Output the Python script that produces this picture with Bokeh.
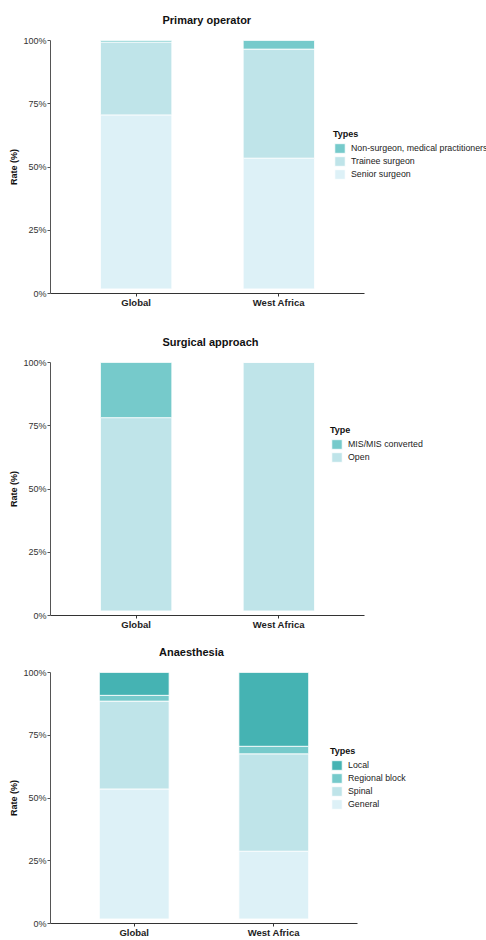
from bokeh.plotting import figure
from bokeh.models import Range1d, Legend, LegendItem, FixedTicker, ColumnDataSource
from bokeh.layouts import column
from bokeh.embed import file_html
from bokeh.resources import INLINE

# ---------------- data ----------------
regions = ["Global", "West Africa"]

op_types = ["Senior surgeon", "Trainee surgeon", "Non-surgeon, medical practitioners"]
op_senior = [70.6, 53.5]
op_trainee = [28.8, 43.1]
op_nonsurgeon = [0.6, 3.4]

app_types = ["Open", "MIS/MIS converted"]
app_open = [78.2, 100.0]
app_mis = [21.8, 0.0]

an_types = ["General", "Spinal", "Regional block", "Local"]
an_general = [53.6, 28.8]
an_spinal = [35.0, 38.8]
an_regional = [2.3, 3.0]
an_local = [9.1, 29.4]

y_ticks = [0, 25, 50, 75, 100]
y_tick_labels = ["0%", "25%", "50%", "75%", "100%"]

# ---------------- style ----------------
C1, C2, C3, C4 = "#DDF1F7", "#BFE4E9", "#76CACB", "#45B3B3"
FONT = "Liberation Sans"
FLOOR = 1.8  # small visual gap under the bars, as in the reference
PAD = 0.6    # discrete-axis expansion on each side


def make_panel(title, types, series, colors, legend_title, height,
               top_border, bottom_border, axis_w, legend_xy):
    pos = [i + 1 for i in range(len(regions))]
    x_start = pos[0] - PAD
    x_end_axis = pos[-1] + PAD
    frame_w = 486 - 50
    px_per_unit = axis_w / (x_end_axis - x_start)
    x_end = x_start + frame_w / px_per_unit

    p = figure(width=486, height=height, output_backend="svg", toolbar_location=None,
               x_range=Range1d(x_start, x_end),
               y_range=Range1d(0, 100),
               min_border_left=50, min_border_right=0,
               min_border_top=top_border, min_border_bottom=bottom_border)
    p.title.text = title
    p.title.align = "left"
    p.title.vertical_align = "top"
    p.title.text_font = FONT
    p.title.text_font_size = "11px"
    p.title.text_font_style = "bold"
    p.title.text_color = "#111111"
    p.title.standoff = 26

    p.grid.visible = False
    p.outline_line_color = None
    p.background_fill_color = "white"

    renderers = []
    bottom = [FLOOR] * len(regions)
    cum = [0.0] * len(regions)
    for name, vals, col in zip(types, series, colors):
        top = [c + v for c, v in zip(cum, vals)]
        src = ColumnDataSource(dict(x=pos, region=regions, bottom=bottom, top=top))
        r = p.vbar(x="x", bottom="bottom", top="top", width=0.5, source=src,
                   fill_color=col, line_color="white", line_width=0.8)
        renderers.append((name, r))
        cum = top
        bottom = top

    items = [LegendItem(label=n, renderers=[r]) for n, r in reversed(renderers)]
    leg = Legend(items=items, location=legend_xy, title=legend_title,
                 title_text_font=FONT, title_text_font_size="9px",
                 title_text_font_style="bold", title_text_color="#111111",
                 title_standoff=3,
                 label_text_font=FONT, label_text_font_size="8.8px",
                 label_text_color="#222222", label_standoff=5,
                 glyph_width=13, glyph_height=12, label_height=12,
                 spacing=1, padding=0, margin=0,
                 border_line_color=None, background_fill_alpha=0)
    p.add_layout(leg, "center")

    ya = p.yaxis[0]
    ya.ticker = FixedTicker(ticks=y_ticks)
    ya.major_label_overrides = {t: l for t, l in zip(y_ticks, y_tick_labels)}
    ya.minor_tick_line_color = None
    ya.major_tick_in = 0
    ya.major_tick_out = 3
    ya.major_label_standoff = 1
    ya.major_label_text_font = FONT
    ya.major_label_text_font_size = "9px"
    ya.major_label_text_color = "#333333"
    ya.axis_line_color = "#555555"
    ya.major_tick_line_color = "#555555"
    ya.axis_label = "Rate (%)"
    ya.axis_label_text_font = FONT
    ya.axis_label_text_font_size = "9px"
    ya.axis_label_text_font_style = "bold"
    ya.axis_label_text_color = "#111111"
    ya.axis_label_standoff = 1

    xa = p.xaxis[0]
    xa.ticker = FixedTicker(ticks=pos)
    xa.major_label_overrides = {x: r for x, r in zip(pos, regions)}
    xa.minor_tick_line_color = None
    xa.bounds = (x_start, x_end_axis)
    xa.major_tick_in = 0
    xa.major_tick_out = 3
    xa.major_label_standoff = 0
    xa.major_label_text_font = FONT
    xa.major_label_text_font_size = "9.5px"
    xa.major_label_text_font_style = "bold"
    xa.major_label_text_color = "#222222"
    xa.axis_line_color = "#333333"
    xa.major_tick_line_color = "#333333"

    # centre the title over the axis span (as in the reference)
    p.title.offset = axis_w / 2 - 45
    return p


p1 = make_panel("Primary operator", op_types, [op_senior, op_trainee, op_nonsurgeon],
                [C1, C2, C3], "Types", 320, 39, 27, 314, (283, 113))
p2 = make_panel("Surgical approach", app_types, [app_open, app_mis],
                [C2, C3], "Type", 312, 42, 15, 314, (280, 152))
p3 = make_panel("Anaesthesia", an_types, [an_general, an_spinal, an_regional, an_local],
                [C1, C2, C3, C4], "Types", 308, 40, 11, 307, (280, 113))

layout = column(p1, p2, p3, spacing=0)
open("out.html", "w").write(file_html(layout, INLINE))
